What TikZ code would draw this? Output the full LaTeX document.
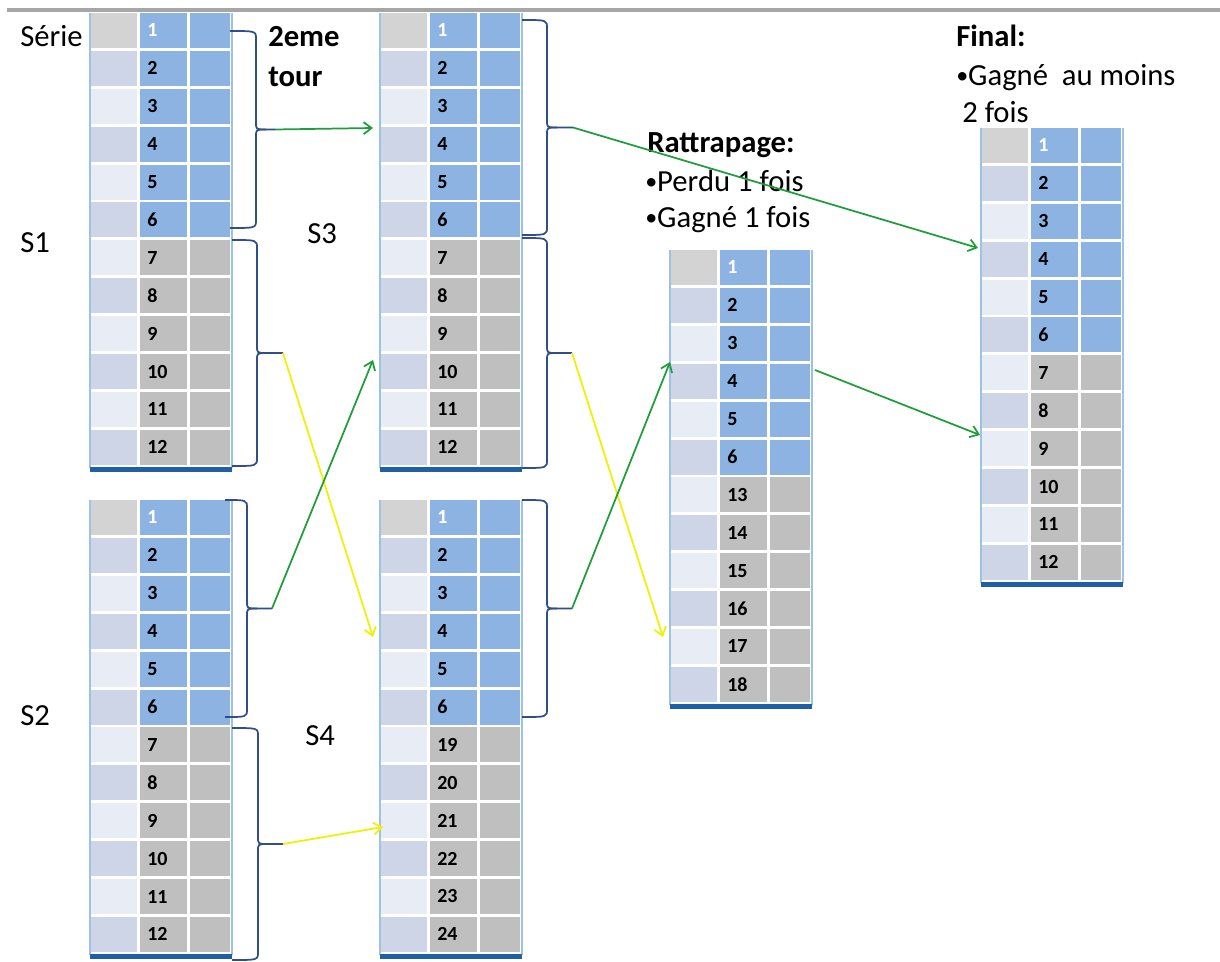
\documentclass[tikz,border=0pt]{standalone}
\usepackage{fontspec}
\setmainfont{Carlito}
\usetikzlibrary{arrows.meta}
\definecolor{cblue}{HTML}{8DB3E2}
\definecolor{cgray}{HTML}{BFBFBF}
\definecolor{chead}{HTML}{D3D3D3}
\definecolor{cdark}{HTML}{CDD5E6}
\definecolor{clight}{HTML}{E8ECF5}
\definecolor{cborder}{HTML}{9CC2E5}
\definecolor{cbar}{HTML}{1F5FA6}
\definecolor{cbrace}{HTML}{2F4F86}
\definecolor{cgreen}{HTML}{1E9E3A}
\definecolor{cyellow}{HTML}{F0F000}
\definecolor{ctop}{HTML}{A6A6A6}
\newcommand\bul{\raisebox{0.08em}{\fontsize{18}{18}\selectfont•}}
\tikzset{
  num/.style={anchor=west,inner sep=0pt,font=\bfseries\fontsize{15}{16}\selectfont},
  lbl/.style={anchor=base west,inner sep=0pt,font=\fontsize{23}{25}\selectfont},
  blbl/.style={lbl,font=\bfseries\fontsize{23}{25}\selectfont},
  bracest/.style={draw=cbrace,line width=1.3pt},
  garrow/.style={draw=cgreen,line width=1.3pt,-{Straight Barb[length=6pt,width=9pt]}},
  yarrow/.style={draw=cyellow,line width=1.3pt,-{Straight Barb[length=6pt,width=9pt]}},
}
\newcommand\tbl[4]{%
  \foreach \n [count=\i] in {#4} {
    \pgfmathsetmacro\yt{#3+(\i-1)*37.9}
    \pgfmathsetmacro\yb{\yt+35}
    \ifnum\i=1 \def\ca{chead}\else\ifodd\i \def\ca{clight}\else\def\ca{cdark}\fi\fi
    \ifnum\i<7 \def\cb{cblue}\else\def\cb{cgray}\fi
    \ifnum\i=1 \def\ct{white}\else\def\ct{black}\fi
    \fill[\ca] (#2+1,\yt) rectangle (#2+47,\yb);
    \fill[\cb] (#2+50,\yt) rectangle (#2+97,\yb);
    \fill[\cb] (#2+100,\yt) rectangle (#2+140,\yb);
    \node[num,text=\ct] (#1-\i) at (#2+57,\yt+17.5) {\n};
  }
  \draw[cborder,line width=1pt] (#2,#3) -- (#2,#3+12*37.9);
  \draw[cborder,line width=1pt] (#2+142,#3) -- (#2+142,#3+12*37.9);
  \fill[cbar] (#2,#3+12*37.9-1) rectangle (#2+142,#3+12*37.9+4);
}
\newcommand\brc[6]{%
  \pgfmathsetmacro\ym{(#4+#5)/2}
  \draw[bracest] (#2,#4) .. controls (#3,#4) .. (#3,#4+8) -- (#3,\ym-7) .. controls (#3,\ym) .. (#3+10,\ym) -- (#6,\ym);
  \draw[bracest] (#2,#5) .. controls (#3,#5) .. (#3,#5-8) -- (#3,\ym+7) .. controls (#3,\ym) .. (#3+10,\ym);
  \coordinate (#1) at (#6,\ym);
}
\begin{document}
\begin{tikzpicture}[x=0.75pt,y=-0.75pt]
\useasboundingbox (0,0) rectangle (1220,962);
\fill[white] (0,0) rectangle (1220,962);
\draw[ctop,line width=3pt] (7,10) -- (1220,10);
% tables
\tbl{sa}{90}{13}{1,2,3,4,5,6,7,8,9,10,11,12}
\tbl{sb}{90}{500}{1,2,3,4,5,6,7,8,9,10,11,12}
\tbl{sc}{380}{13}{1,2,3,4,5,6,7,8,9,10,11,12}
\tbl{sd}{380}{500}{1,2,3,4,5,6,19,20,21,22,23,24}
\tbl{rt}{670}{250}{1,2,3,4,5,6,13,14,15,16,17,18}
\tbl{fn}{981}{128}{1,2,3,4,5,6,7,8,9,10,11,12}
% labels
\node[lbl] (serie) at (20,47) {Série};
\node[lbl] (s1) at (20,253) {S1};
\node[lbl] (s2) at (20,725) {S2};
\node[lbl] (s3) at (307,244) {S3};
\node[lbl] (s4) at (305,745) {S4};
\node[blbl] (tour1) at (268,47) {2eme};
\node[blbl] (tour2) at (268,87) {tour};
\node[blbl] (ratt) at (647,153) {Rattrapage:};
\node[lbl] (perdu) at (645,192) {\bul Perdu 1 fois};
\node[lbl] (gagne) at (645,228) {\bul Gagné 1 fois};
\node[blbl] (final) at (956,47) {Final:};
\node[lbl] (gam) at (956,86) {\bul Gagné~ au moins};
\node[lbl] (fois) at (962,123) {2 fois};
% braces
\brc{b1}{230}{256}{31}{228}{275}
\brc{b2}{232}{257}{240}{466}{283}
\brc{b3}{225}{247}{500}{717}{272}
\brc{b4}{232}{258}{728}{960}{283}
\brc{b5}{522}{547}{20}{235}{573}
\brc{b6}{522}{547}{238}{468}{572}
\brc{b7}{522}{547}{500}{717}{572}
% targets
\coordinate (t1) at (373,128);
\coordinate (t2) at (373,637);
\coordinate (t3) at (373,360);
\coordinate (t4) at (383,827);
\coordinate (t5) at (978,248);
\coordinate (t6) at (663,637);
\coordinate (t7) at (670,362);
\coordinate (r0) at (815,370);
\coordinate (t8) at (980,435);
% connectors
\draw[garrow] (b1) -- (t1);
\draw[yarrow] (b2) -- (t2);
\draw[garrow] (b3) -- (t3);
\draw[yarrow] (b4) -- (t4);
\draw[garrow] (b5) -- (t5);
\draw[yarrow] (b6) -- (t6);
\draw[garrow] (b7) -- (t7);
\draw[garrow] (r0) -- (t8);
\end{tikzpicture}
\end{document}
